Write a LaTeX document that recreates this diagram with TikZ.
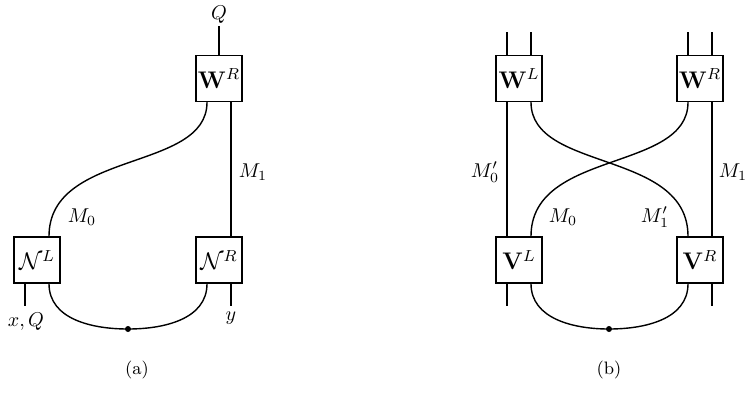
\documentclass[tikz,border=0pt]{standalone}
\usepackage{amsmath}
\usepackage{amssymb}
\usepackage{tikz}

\begin{document}
\begin{tikzpicture}[x=0.5pt,y=-0.5pt,line width=0.7pt,
      blk/.style={draw,minimum size=23pt,inner sep=0pt,font=\large},
      knot/.style={circle,fill,inner sep=0pt,minimum size=3pt},
      lbl/.style={inner sep=1pt}]
    \useasboundingbox (0,0) rectangle (754,409);
    % (a)
    \node[blk] (WRa) at (219,78.5) {$\mathbf{W}^R$};
    \node[blk] (NL) at (37,260) {$\mathcal{N}^L$};
    \node[blk] (NR) at (219,260) {$\mathcal{N}^R$};
    \node[knot] (da) at (128,329) {};
    \node[lbl] (Q) at (219,15) {$Q$};
    \node[lbl] (xQ) at (26,322) {$x,Q$};
    \node[lbl] (y) at (231,318) {$y$};
    \node (M1a) at (253,172) {$M_1$};
    \node (M0a) at (82,217) {$M_0$};
    \node (capa) at (137,370) {\small(a)};
    \draw (WRa.north) -- (Q);
    \draw ([xshift=6pt]WRa.south) -- ([xshift=6pt]NR.north);
    \draw ([xshift=-6pt]WRa.south) .. controls +(0,70) and +(0,-87) .. ([xshift=6pt]NL.north);
    \draw ([xshift=-6pt]NL.south) -- ++(0,22);
    \draw ([xshift=6pt]NR.south) -- ++(0,22);
    \draw ([xshift=6pt]NL.south) to[out=-90,in=180] (da.center)
      to[out=0,in=-90] ([xshift=-6pt]NR.south);
    % (b)
    \node[blk] (WL) at (519,78.5) {$\mathbf{W}^L$};
    \node[blk] (WRb) at (700,78.5) {$\mathbf{W}^R$};
    \node[blk] (VL) at (519,260) {$\mathbf{V}^L$};
    \node[blk] (VR) at (700,260) {$\mathbf{V}^R$};
    \node[knot] (db) at (609,329) {};
    \node (M0p) at (485,172) {$M_0'$};
    \node (M1b) at (733,172) {$M_1$};
    \node (M0b) at (563,217) {$M_0$};
    \node (M1p) at (655,217) {$M_1'$};
    \node (capb) at (609,370) {\small(b)};
    \foreach \b in {WL,WRb} {
      \draw ([xshift=-6pt]\b.north) -- ++(0,-23);
      \draw ([xshift=6pt]\b.north) -- ++(0,-23);
    }
    \draw ([xshift=-6pt]WL.south) -- ([xshift=-6pt]VL.north);
    \draw ([xshift=6pt]WRb.south) -- ([xshift=6pt]VR.north);
    \draw ([xshift=6pt]WL.south) .. controls +(0,70) and +(0,-87) .. ([xshift=-6pt]VR.north);
    \draw ([xshift=-6pt]WRb.south) .. controls +(0,70) and +(0,-87) .. ([xshift=6pt]VL.north);
    \draw ([xshift=-6pt]VL.south) -- ++(0,22);
    \draw ([xshift=6pt]VR.south) -- ++(0,22);
    \draw ([xshift=6pt]VL.south) to[out=-90,in=180] (db.center)
      to[out=0,in=-90] ([xshift=-6pt]VR.south);
\end{tikzpicture}
\end{document}
